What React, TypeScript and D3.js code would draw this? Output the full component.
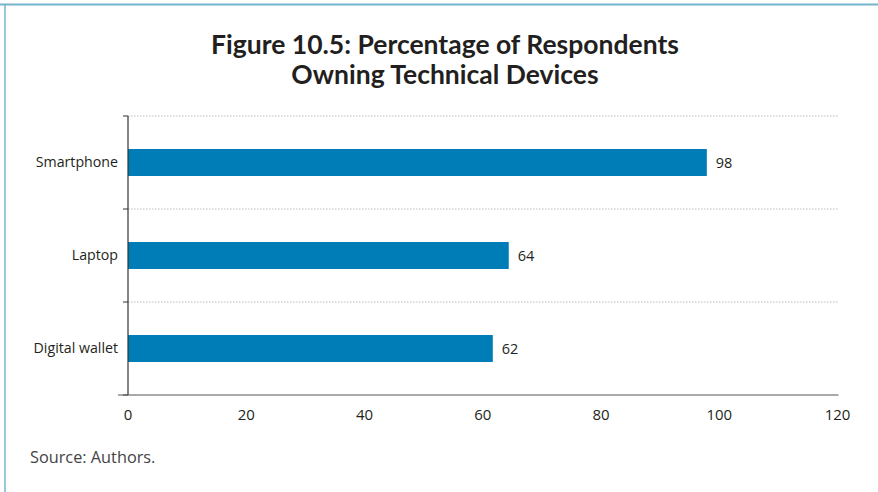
import React from "react";
import * as d3 from "d3";

const categories = ["Smartphone", "Laptop", "Digital wallet"];
const values = [97.9, 64.4, 61.7];
const xTicks = [0, 20, 40, 60, 80, 100, 120];
const titleLines = ["Figure 10.5: Percentage of Respondents", "Owning Technical Devices"];
const source = "Source: Authors.";

const W = 878;
const H = 492;
const left = 128;
const right = 837.5;
const top = 116;
const bottom = 395;

export default function App() {
  const x = d3.scaleLinear().domain([0, 120]).range([left, right]);
  const y = d3.scaleBand<string>().domain(categories).range([top, bottom]).paddingInner(0.71).paddingOuter(0.355);
  const outer = d3.scaleBand<string>().domain(categories).range([top, bottom]);
  const font = "'Open Sans', sans-serif";
  return (
    <svg width={W} height={H} style={{ position: "absolute", left: 0, top: 0, background: "#fff" }}>
      <line x1={0} x2={W} y1={4.5} y2={4.5} stroke="#74b4cc" strokeWidth={2} />
      <line x1={5} x2={5} y1={4} y2={H} stroke="#74b4cc" strokeWidth={1.5} />
      {titleLines.map((t, i) => (
        <text key={i} x={445} y={54 + i * 30} textAnchor="middle" fontFamily="Lato, sans-serif" fontWeight={700} fontSize={26.5} fill="#231f20">{t}</text>
      ))}
      {categories.map((c) => (
        <line key={"g" + c} x1={left} x2={right} y1={outer(c)!} y2={outer(c)!} stroke="#bbb" strokeWidth={1} strokeDasharray="1.5,1.5" />
      ))}
      {categories.map((c, i) => (
        <g key={c}>
          <rect x={x(0)} y={y(c)!} width={x(values[i]) - x(0)} height={y.bandwidth()} fill="#007db6" />
          <text x={x(values[i]) + 9} y={y(c)! + y.bandwidth() / 2} dy="0.35em" fontFamily={font} fontSize={14.5} fill="#231f20">{Math.round(values[i])}</text>
          <text x={118} y={y(c)! + y.bandwidth() / 2} dy="0.35em" textAnchor="end" fontFamily={font} fontSize={14.2} fill="#231f20">{c}</text>
        </g>
      ))}
      {[...categories.map((c) => outer(c)!), bottom].map((v, i) => (
        <line key={"t" + i} x1={left - 5} x2={left} y1={v} y2={v} stroke="#333" strokeWidth={1} />
      ))}
      <line x1={left} x2={left} y1={top} y2={bottom} stroke="#333" strokeWidth={1.2} />
      <line x1={118} x2={right + 1} y1={bottom} y2={bottom} stroke="#555" strokeWidth={1.2} />
      {xTicks.map((t) => (
        <text key={t} x={x(t)} y={420} textAnchor="middle" fontFamily={font} fontSize={15} fill="#231f20">{t}</text>
      ))}
      <text x={30} y={463} fontFamily={font} fontSize={16.3} fill="#444">{source}</text>
    </svg>
  );
}
